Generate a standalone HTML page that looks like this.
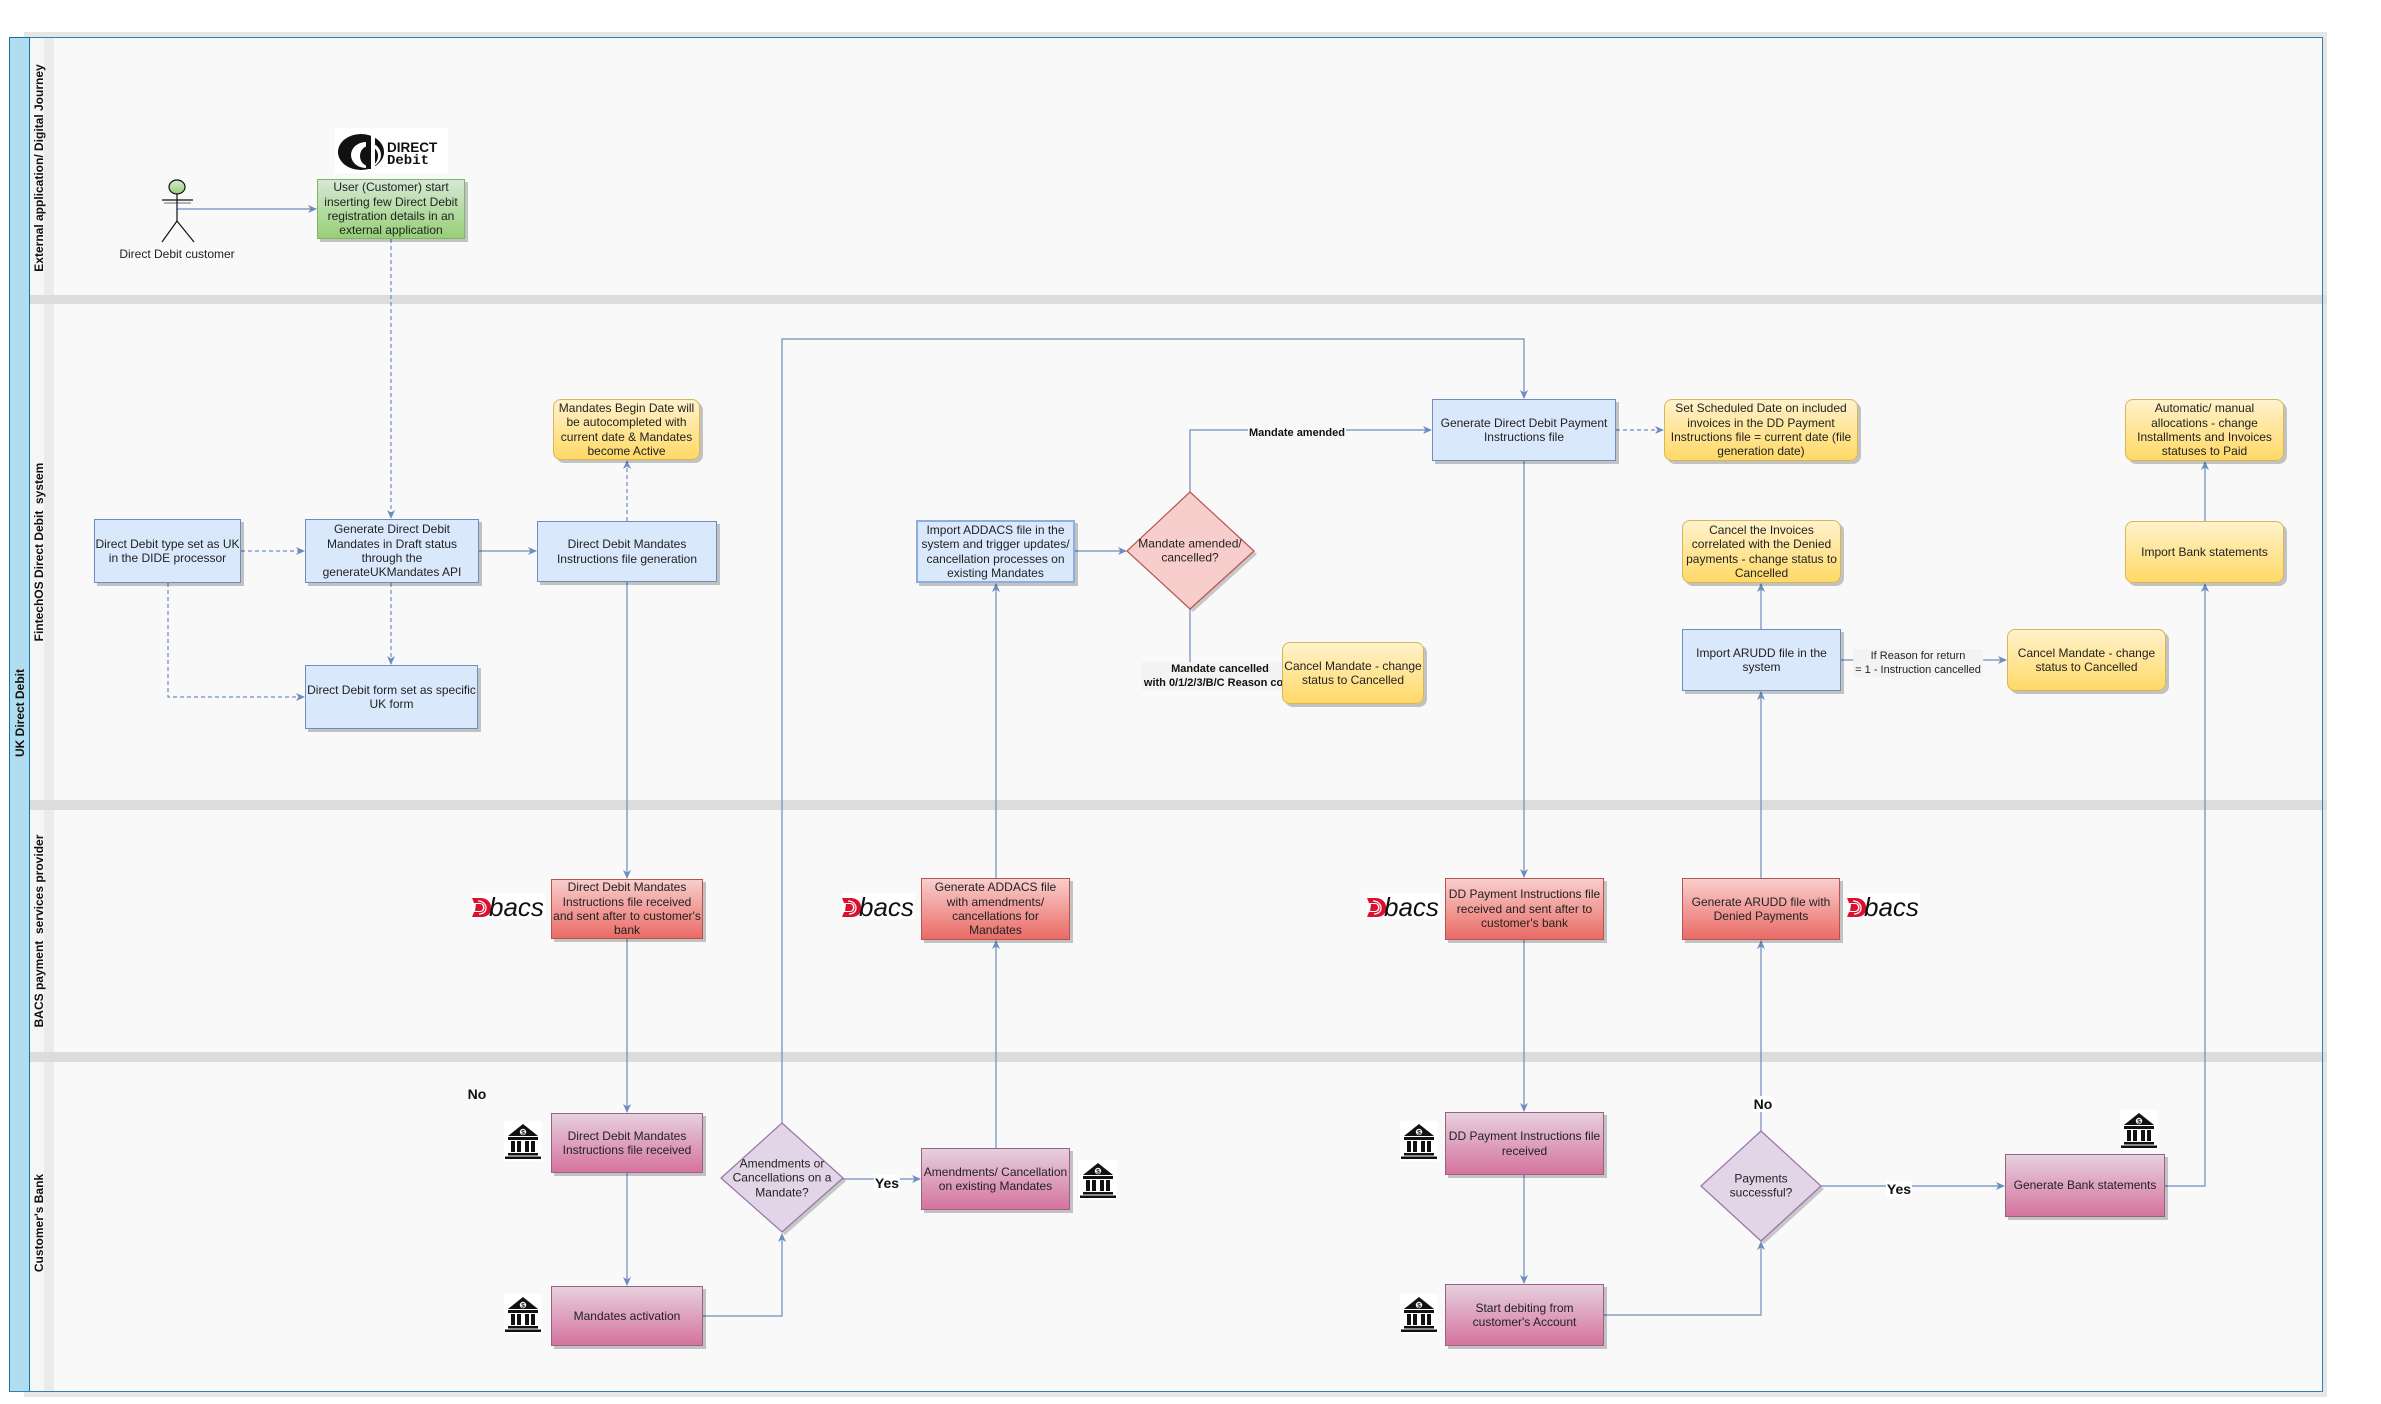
<!DOCTYPE html>
<html>
<head>
<meta charset="utf-8">
<style>
html,body{margin:0;padding:0;background:#fff;}
body{width:2381px;height:1404px;position:relative;overflow:hidden;font-family:"Liberation Sans",Arial,sans-serif;}
.abs{position:absolute;}
.b{position:absolute;box-sizing:border-box;border:1px solid;display:flex;align-items:center;justify-content:center;text-align:center;font:12px/14.4px "Liberation Sans",Arial,sans-serif;color:#222;box-shadow:3px 3px 0 rgba(0,0,0,.22);}
.blue{background:#dae8fc;border-color:#6c8ebf;}
.green{background:linear-gradient(#d5e8d4,#97d077);border-color:#82b366;}
.yel{background:linear-gradient(#fff2cc,#ffd966);border-color:#d6b656;border-radius:8px;}
.red{background:linear-gradient(#f8cecc,#ea6b66);border-color:#b85450;}
.pink{background:linear-gradient(#e6d0de,#d5739d);border-color:#996185;}
.lane{position:absolute;left:30px;width:2293px;background:#f9f9f9;}
.band{position:absolute;left:24px;width:2303px;background:#dcdcdc;}
.rot{position:absolute;transform:translate(-50%,-50%) rotate(-90deg);white-space:nowrap;font:bold 12px "Liberation Sans",Arial,sans-serif;color:#111;}
.lbl{position:absolute;transform:translate(-50%,-50%);white-space:nowrap;text-align:center;color:#111;}
.yn{font:bold 14px "Liberation Sans",Arial,sans-serif;background:#fff;padding:0 1px;}
.el{font:bold 11px/14px "Liberation Sans",Arial,sans-serif;}
</style>
</head>
<body>

<!-- pool shadow -->
<div class="abs" style="left:24px;top:32px;width:2303px;height:1365px;background:#e6e6e6;"></div>
<!-- pool -->
<div class="abs" style="left:9px;top:37px;width:2314px;height:1355px;box-sizing:border-box;border:1px solid #2f7fb5;background:#f9f9f9;"></div>
<!-- lanes -->
<div class="lane" style="top:38px;height:257px;"></div>
<div class="lane" style="top:304px;height:496px;"></div>
<div class="lane" style="top:810px;height:242px;"></div>
<div class="lane" style="top:1062px;height:329px;"></div>
<!-- lane header column -->
<div class="abs" style="left:30px;top:38px;width:14px;height:1353px;background:#f6f6f6;"></div>
<div class="abs" style="left:44px;top:38px;width:10px;height:1353px;background:#ebebeb;"></div>
<!-- bands -->
<div class="band" style="top:295px;height:9px;"></div>
<div class="band" style="top:800px;height:10px;"></div>
<div class="band" style="top:1052px;height:10px;"></div>
<!-- pool header -->
<div class="abs" style="left:9px;top:37px;width:21px;height:1355px;box-sizing:border-box;background:#b1ddf0;border:1px solid #10739e;"></div>
<div class="abs" style="left:2322px;top:37px;width:1px;height:1355px;background:#2f7fb5;"></div>
<div class="abs" style="left:9px;top:1391px;width:2314px;height:1px;background:#2f7fb5;"></div>

<!-- lane labels -->
<div class="rot" style="left:20px;top:713px;">UK Direct Debit</div>
<div class="rot" style="left:39px;top:168px;">External application/ Digital Journey</div>
<div class="rot" style="left:39px;top:552px;">FintechOS Direct Debit&nbsp; system</div>
<div class="rot" style="left:39px;top:931px;">BACS payment&nbsp; services provider</div>
<div class="rot" style="left:39px;top:1223px;">Customer's Bank</div>

<!-- connectors -->
<svg class="abs" style="left:0;top:0;" width="2381" height="1404" viewBox="0 0 2381 1404">
<defs>
<marker id="ar" markerWidth="10" markerHeight="10" refX="8" refY="5" orient="auto" markerUnits="userSpaceOnUse">
<path d="M0,1 L9,5 L0,9 L2.5,5 Z" fill="#6c8ebf"/>
</marker>
<linearGradient id="gg" x1="0" y1="0" x2="0" y2="1"><stop offset="0" stop-color="#d5e8d4"/><stop offset="1" stop-color="#97d077"/></linearGradient>
</defs>
<g fill="none" stroke="#6c8ebf" stroke-width="1.2">
<path d="M177,209 H316" marker-end="url(#ar)"/>
<path d="M391,239 V518" stroke-dasharray="4 3" marker-end="url(#ar)"/>
<path d="M241,551 H304" stroke-dasharray="4 3" marker-end="url(#ar)"/>
<path d="M479,551 H536" marker-end="url(#ar)"/>
<path d="M168,583 V697 H304" stroke-dasharray="4 3" marker-end="url(#ar)"/>
<path d="M391,583 V664" stroke-dasharray="4 3" marker-end="url(#ar)"/>
<path d="M627,521 V461" stroke-dasharray="4 3" marker-end="url(#ar)"/>
<path d="M627,582 V878" marker-end="url(#ar)"/>
<path d="M627,939 V1112" marker-end="url(#ar)"/>
<path d="M627,1173 V1285" marker-end="url(#ar)"/>
<path d="M703,1316 H782 V1234" marker-end="url(#ar)"/>
<path d="M782,1123 V339 H1524 V398" marker-end="url(#ar)"/>
<path d="M843,1179 H920" marker-end="url(#ar)"/>
<path d="M996,1148 V941" marker-end="url(#ar)"/>
<path d="M996,878 V584" marker-end="url(#ar)"/>
<path d="M1075,551 H1126" marker-end="url(#ar)"/>
<path d="M1190,492 V430 H1431" marker-end="url(#ar)"/>
<path d="M1190,609 V663"/>
<path d="M1616,430 H1663" stroke-dasharray="4 3" marker-end="url(#ar)"/>
<path d="M1524,461 V877" marker-end="url(#ar)"/>
<path d="M1524,940 V1111" marker-end="url(#ar)"/>
<path d="M1524,1175 V1283" marker-end="url(#ar)"/>
<path d="M1604,1315 H1761 V1242" marker-end="url(#ar)"/>
<path d="M1761,1131 V941" marker-end="url(#ar)"/>
<path d="M1761,878 V692" marker-end="url(#ar)"/>
<path d="M1761,629 V584" marker-end="url(#ar)"/>
<path d="M1841,660 H2006" marker-end="url(#ar)"/>
<path d="M1821,1186 H2004" marker-end="url(#ar)"/>
<path d="M2165,1186 H2205 V584" marker-end="url(#ar)"/>
<path d="M2205,521 V462" marker-end="url(#ar)"/>
</g>

<!-- actor -->
<g stroke="#111" stroke-width="1.2" fill="none">
<ellipse cx="177" cy="187" rx="8" ry="7" fill="url(#gg)"/>
<line x1="162" y1="200" x2="193" y2="200"/>
<line x1="164" y1="203" x2="191" y2="203" stroke="#888"/>
<line x1="177" y1="194" x2="177" y2="221"/>
<line x1="177" y1="221" x2="162" y2="242"/>
<line x1="177" y1="221" x2="194" y2="242"/>
</g>

<!-- diamonds -->
<g>
<polygon points="1193,495 1257,554 1193,612 1130,554" fill="#000" opacity=".2"/>
<polygon points="1190,492 1254,551 1190,609 1127,551" fill="#f8cecc" stroke="#b85450" stroke-width="1.2"/>
<polygon points="785,1126 846,1181 785,1235 724,1181" fill="#000" opacity=".2"/>
<polygon points="782,1123 843,1178 782,1232 721,1178" fill="#e1d5e7" stroke="#9673a6" stroke-width="1.2"/>
<polygon points="1764,1134 1824,1189 1764,1244 1704,1189" fill="#000" opacity=".2"/>
<polygon points="1761,1131 1821,1186 1761,1241 1701,1186" fill="#e1d5e7" stroke="#9673a6" stroke-width="1.2"/>
</g>

<!-- Direct Debit logo -->
<rect x="335" y="128" width="113" height="45" fill="#fff"/>
<ellipse cx="361" cy="152" rx="23" ry="18" fill="#111"/>
<ellipse cx="366" cy="155" rx="15" ry="13" fill="#fff"/>
<ellipse cx="369" cy="156" rx="9" ry="10" fill="#111"/>
<rect x="371" y="136" width="4" height="32" fill="#fff"/>
<rect x="366" y="136" width="5" height="33" fill="#111"/>
<text x="387" y="152" font-family="Liberation Sans, Arial, sans-serif" font-weight="bold" font-size="13.5" fill="#111">DIRECT</text>
<text x="387" y="164" font-family="Liberation Mono, monospace" font-weight="bold" font-size="14" fill="#111">Debit</text>

<!-- bacs logos -->
<g id="bacs1" transform="translate(472,893)">
<rect x="0" y="0" width="73" height="26" fill="#fff"/>
<path d="M0,5 H9 C22,5 23,24 10,24 H0 L2,19 H8 C14,19 14,10 8,10 H2 Z" fill="#d9112e"/>
<path d="M4,11 H8 C12,11 12,18 8,18 H3 Z" fill="#d9112e"/>
<path d="M6,8 C16,8 17,21 7,21" stroke="#fff" stroke-width="1.2" fill="none"/>
<text x="17" y="23" font-family="Liberation Sans, Arial, sans-serif" font-style="italic" font-size="26" fill="#111">bacs</text>
</g>
<use href="#bacs1" transform="translate(370,0)"/>
<use href="#bacs1" transform="translate(895,0)"/>
<use href="#bacs1" transform="translate(1375,0)"/>

<!-- bank icons -->
<g id="bank1" transform="translate(504,1121)">
<rect x="0" y="0" width="38" height="40" fill="#fff"/>
<polygon points="19,3 34,15 4,15" fill="#111"/>
<circle cx="19" cy="11" r="3.2" fill="#fff"/>
<text x="19" y="13.5" text-anchor="middle" font-family="Liberation Sans, Arial, sans-serif" font-weight="bold" font-size="6.5" fill="#111">$</text>
<rect x="4" y="16" width="30" height="3" fill="#111"/>
<rect x="7" y="20" width="4" height="11" fill="#111"/>
<rect x="13" y="20" width="4" height="11" fill="#111"/>
<rect x="21" y="20" width="4" height="11" fill="#111"/>
<rect x="27" y="20" width="4" height="11" fill="#111"/>
<rect x="4" y="32" width="30" height="2.5" fill="#111"/>
<rect x="1" y="35.5" width="36" height="2.5" fill="#111"/>
</g>
<use href="#bank1" transform="translate(0,173)"/>
<use href="#bank1" transform="translate(575,39)"/>
<use href="#bank1" transform="translate(896,0)"/>
<use href="#bank1" transform="translate(896,173)"/>
<use href="#bank1" transform="translate(1616,-11)"/>
</svg>

<!-- diamond texts -->
<div class="lbl" style="left:1190px;top:551px;font:12px/14.4px 'Liberation Sans',Arial,sans-serif;color:#222;">Mandate amended/<br>cancelled?</div>
<div class="lbl" style="left:782px;top:1178px;font:12px/14.4px 'Liberation Sans',Arial,sans-serif;color:#222;">Amendments or<br>Cancellations on a<br>Mandate?</div>
<div class="lbl" style="left:1761px;top:1186px;font:12px/14.4px 'Liberation Sans',Arial,sans-serif;color:#222;">Payments<br>successful?</div>

<!-- actor label -->
<div class="lbl" style="left:177px;top:254px;font:12px 'Liberation Sans',Arial,sans-serif;color:#222;">Direct Debit customer</div>

<!-- boxes -->
<div class="b green" style="left:317px;top:179px;width:148px;height:60px;">User (Customer) start<br>inserting few Direct Debit<br>registration details in an<br>external application</div>

<div class="b blue" style="left:94px;top:519px;width:147px;height:64px;">Direct Debit type set as UK<br>in the DIDE processor</div>
<div class="b blue" style="left:305px;top:519px;width:174px;height:64px;">Generate Direct Debit<br>Mandates in Draft status<br>through the<br>generateUKMandates API</div>
<div class="b blue" style="left:537px;top:521px;width:180px;height:61px;">Direct Debit Mandates<br>Instructions file generation</div>
<div class="b blue" style="left:305px;top:665px;width:173px;height:64px;">Direct Debit form set as specific<br>UK form</div>
<div class="b blue" style="left:916px;top:520px;width:159px;height:63px;border-width:2px;border-color:#8eaede;">Import ADDACS file in the<br>system and trigger updates/<br>cancellation processes on<br>existing Mandates</div>
<div class="b blue" style="left:1432px;top:399px;width:184px;height:62px;">Generate Direct Debit Payment<br>Instructions file</div>
<div class="b blue" style="left:1682px;top:629px;width:159px;height:62px;">Import ARUDD file in the<br>system</div>

<div class="b yel" style="left:553px;top:399px;width:147px;height:61px;">Mandates Begin Date will<br>be autocompleted with<br>current date &amp; Mandates<br>become Active</div>

<!-- edge label under cancel mandate box -->
<div class="lbl el" style="left:1220px;top:676px;background:#f3f3f3;padding:0 2px;">Mandate cancelled<br>with 0/1/2/3/B/C Reason code</div>
<div class="b yel" style="left:1282px;top:642px;width:142px;height:62px;">Cancel Mandate - change<br>status to Cancelled</div>

<div class="b yel" style="left:1664px;top:399px;width:194px;height:62px;">Set Scheduled Date on included<br>invoices in the DD Payment<br>Instructions file = current date (file<br>generation date)</div>
<div class="b yel" style="left:2125px;top:399px;width:159px;height:62px;">Automatic/ manual<br>allocations - change<br>Installments and Invoices<br>statuses to Paid</div>
<div class="b yel" style="left:1682px;top:520px;width:159px;height:63px;">Cancel the Invoices<br>correlated with the Denied<br>payments - change status to<br>Cancelled</div>
<div class="b yel" style="left:2125px;top:521px;width:159px;height:62px;">Import Bank statements</div>
<div class="b yel" style="left:2007px;top:629px;width:159px;height:62px;">Cancel Mandate - change<br>status to Cancelled</div>

<div class="b red" style="left:551px;top:879px;width:152px;height:60px;">Direct Debit Mandates<br>Instructions file received<br>and sent after to customer's<br>bank</div>
<div class="b red" style="left:921px;top:878px;width:149px;height:62px;">Generate ADDACS file<br>with amendments/<br>cancellations for<br>Mandates</div>
<div class="b red" style="left:1445px;top:878px;width:159px;height:62px;">DD Payment Instructions file<br>received and sent after to<br>customer's bank</div>
<div class="b red" style="left:1682px;top:878px;width:158px;height:62px;">Generate ARUDD file with<br>Denied Payments</div>

<div class="b pink" style="left:551px;top:1113px;width:152px;height:60px;">Direct Debit Mandates<br>Instructions file received</div>
<div class="b pink" style="left:551px;top:1286px;width:152px;height:60px;">Mandates activation</div>
<div class="b pink" style="left:921px;top:1148px;width:149px;height:62px;">Amendments/ Cancellation<br>on existing Mandates</div>
<div class="b pink" style="left:1445px;top:1112px;width:159px;height:63px;">DD Payment Instructions file<br>received</div>
<div class="b pink" style="left:1445px;top:1284px;width:159px;height:62px;">Start debiting from<br>customer's Account</div>
<div class="b pink" style="left:2005px;top:1154px;width:160px;height:63px;">Generate Bank statements</div>

<!-- edge labels -->
<div class="lbl el" style="left:1297px;top:433px;background:#f9f9f9;padding:0 1px;">Mandate amended</div>
<div class="lbl" style="left:1918px;top:663px;font:11px/14px 'Liberation Sans',Arial,sans-serif;background:#f3f3f3;padding:0 2px;color:#222;">If Reason for return<br>= 1 - Instruction cancelled</div>
<div class="lbl yn" style="left:477px;top:1094px;background:transparent;">No</div>
<div class="lbl yn" style="left:887px;top:1183px;">Yes</div>
<div class="lbl yn" style="left:1763px;top:1104px;">No</div>
<div class="lbl yn" style="left:1899px;top:1189px;">Yes</div>

</body>
</html>
